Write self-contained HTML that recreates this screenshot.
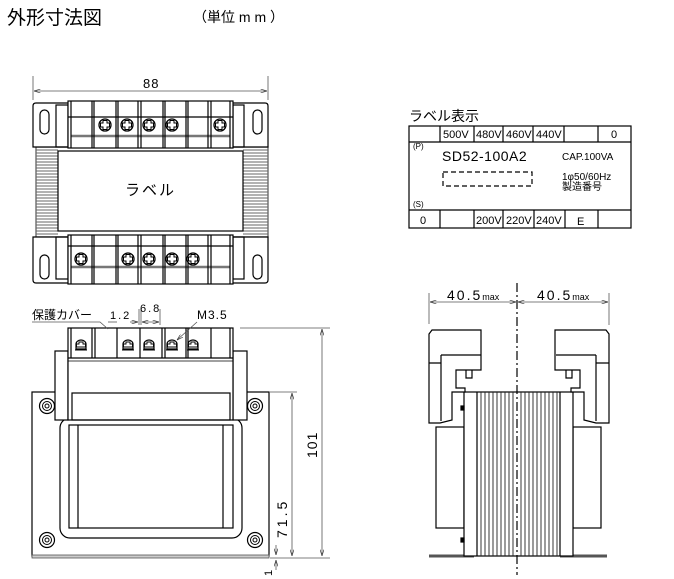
<!DOCTYPE html>
<html><head><meta charset="utf-8"><style>
body{margin:0;background:#fff;width:674px;height:579px;overflow:hidden}
svg{display:block}
text{font-family:"Liberation Sans","Noto Sans CJK JP",sans-serif;fill:#000}
</style></head><body>
<svg width="674" height="579" viewBox="0 0 674 579" xmlns="http://www.w3.org/2000/svg">
<defs>
<marker id="a" viewBox="0 0 10 6" refX="10" refY="3" markerWidth="8" markerHeight="5" orient="auto-start-reverse"><path d="M0,0L10,3L0,6" fill="none" stroke="#333" stroke-width="1"/></marker>
<g id="scr"><circle r="6" fill="#fff" stroke="#000" stroke-width="1.3"/><path d="M-2,-4.5h4v2.5h2.5v4h-2.5v2.5h-4v-2.5h-2.5v-4h2.5z" fill="none" stroke="#000" stroke-width="1"/></g>
<g id="scr2"><path d="M-5,4v-5a5,4 0 0 1 10,0v5z" fill="#fff" stroke="#000" stroke-width="1.2"/><path d="M-2,-3h4v2h2.5v3h-9v-3h2.5z" fill="none" stroke="#000" stroke-width="0.9"/><line x1="-6" y1="5" x2="6" y2="5" stroke="#000"/></g>
<g id="bolt"><circle r="7.5" fill="#fff" stroke="#000" stroke-width="1.2"/><circle r="4.5" fill="none" stroke="#000"/><circle r="2" fill="none" stroke="#000"/></g>
</defs>

<text x="7" y="24" font-size="19">外形寸法図</text>
<text x="193" y="22" font-size="14">（単位  m m ）</text>

<!-- TOP VIEW -->
<g stroke="#000" fill="none" stroke-width="1.2">
<line x1="33" y1="76" x2="33" y2="100" stroke="#555" stroke-width="0.8"/>
<line x1="268" y1="76" x2="268" y2="100" stroke="#555" stroke-width="0.8"/>
<line x1="34" y1="91" x2="267" y2="91" stroke="#555" stroke-width="0.8" marker-start="url(#a)" marker-end="url(#a)"/>
<rect x="36" y="147" width="232" height="90" fill="#fff" stroke="#555"/>
<g stroke="#666" stroke-width="0.9">
<path d="M36,150h22M36,153h22M36,156h22M36,159h22M36,162h22M36,165h22M36,168h22M36,171h22M36,174h22M36,177h22M36,180h22M36,183h22M36,186h22M36,189h22M36,192h22M36,195h22M36,198h22M36,201h22M36,204h22M36,207h22M36,210h22M36,213h22M36,216h22M36,219h22M36,222h22M36,225h22M36,228h22M36,231h22M36,234h22"/>
<path d="M243,150h25M243,153h25M243,156h25M243,159h25M243,162h25M243,165h25M243,168h25M243,171h25M243,174h25M243,177h25M243,180h25M243,183h25M243,186h25M243,189h25M243,192h25M243,195h25M243,198h25M243,201h25M243,204h25M243,207h25M243,210h25M243,213h25M243,216h25M243,219h25M243,222h25M243,225h25M243,228h25M243,231h25M243,234h25"/>
</g>
<rect x="58" y="151" width="185" height="80" fill="#fff"/>
<path d="M33,106q0,-3 3,-3h229q3,0 3,3v41h-235z" fill="#fff"/>
<rect x="40" y="110" width="9" height="24" rx="4.5"/>
<rect x="253" y="110" width="9" height="24" rx="4.5"/>
<rect x="56" y="105" width="12" height="42"/><rect x="233" y="105" width="11" height="42"/>
<rect x="68" y="101" width="165" height="47" fill="#fff"/>
<line x1="68" y1="117" x2="233" y2="117"/>
<line x1="71" y1="136" x2="230" y2="136" stroke="#777" stroke-width="2.5"/>
<path d="M71,101v47M92,101v47M94,101v47M116,101v47M118,101v47M138,101v47M141,101v47M163,101v47M165,101v47M186,101v47M188,101v47M208,101v47M211,101v47M230,101v47"/>
<path d="M33,237h235v43q0,3 -3,3h-229q-3,0 -3,-3z" fill="#fff"/>
<rect x="40" y="255" width="9" height="24" rx="4.5"/>
<rect x="253" y="255" width="9" height="24" rx="4.5"/>
<rect x="56" y="237" width="12" height="42"/><rect x="233" y="237" width="11" height="42"/>
<rect x="68" y="235" width="165" height="49" fill="#fff"/>
<line x1="68" y1="246" x2="233" y2="246"/>
<line x1="71" y1="267" x2="230" y2="267" stroke="#777" stroke-width="2.5"/>
<path d="M71,235v49M92,235v49M94,235v49M116,235v49M118,235v49M138,235v49M141,235v49M163,235v49M165,235v49M186,235v49M188,235v49M208,235v49M211,235v49M230,235v49"/>
</g>
<use href="#scr" x="105" y="125"/><use href="#scr" x="127" y="125"/><use href="#scr" x="149" y="125"/><use href="#scr" x="172" y="125"/><use href="#scr" x="220" y="125"/>
<use href="#scr" x="81" y="259"/><use href="#scr" x="128" y="259"/><use href="#scr" x="149" y="259"/><use href="#scr" x="172" y="259"/><use href="#scr" x="193" y="259"/>
<text x="143" y="88" font-size="13" letter-spacing="1">88</text>
<text x="125" y="195" font-size="15" letter-spacing="2">ラベル</text>

<!-- LABEL TABLE -->
<text x="409" y="121" font-size="14">ラベル表示</text>
<g stroke="#000" fill="none" stroke-width="1.2">
<rect x="409" y="126" width="222" height="102"/>
<line x1="409" y1="142" x2="631" y2="142"/><line x1="409" y1="210" x2="631" y2="210"/>
<path d="M440,126v16M474,126v16M503,126v16M533,126v16M564,126v16M598,126v16"/>
<path d="M440,210v18M474,210v18M503,210v18M534,210v18M565,210v18M598,210v18"/>
<rect x="443" y="172" width="89" height="14" stroke-dasharray="5,3"/>
</g>
<g font-size="11">
<text x="443" y="138">500V</text><text x="476" y="138">480V</text><text x="506" y="138">460V</text><text x="536" y="138">440V</text><text x="611" y="138">0</text>
<text x="420" y="224">0</text><text x="476" y="224">200V</text><text x="506" y="224">220V</text><text x="536" y="224">240V</text><text x="577" y="225">E</text>
<text x="442" y="161" font-size="14" letter-spacing="0.5">SD52-100A2</text>
<text x="562" y="160" font-size="10">CAP.100VA</text>
<text x="562" y="180" font-size="10">1φ50/60Hz</text>
<text x="562" y="190" font-size="10">製造番号</text>
<text x="413" y="149" font-size="8">(P)</text>
<text x="413" y="207" font-size="8">(S)</text>
</g>

<!-- FRONT VIEW -->
<g stroke="#000" fill="none" stroke-width="1.2">
<rect x="32" y="392" width="237" height="164" fill="#fff"/>
<rect x="32" y="555" width="237" height="3" fill="#ccc" stroke="#555" stroke-width="0.8"/>
<rect x="60" y="418" width="182" height="120" rx="10" fill="#fff"/>
<rect x="69" y="425" width="164" height="103"/>
<path d="M78,425v103M223,425v103"/>
<rect x="55" y="351" width="13" height="69" fill="#fff"/><rect x="233" y="351" width="14" height="69" fill="#fff"/>
<rect x="68" y="328" width="165" height="92" fill="#fff"/>
<line x1="68" y1="358" x2="233" y2="358"/><line x1="68" y1="361" x2="233" y2="361" stroke-width="0.8"/>
<rect x="72" y="393" width="158" height="27"/>
<path d="M71,328v30M92,328v30M95,328v30M117,328v30M140,328v30M162,328v30M165,328v30M186,328v30M188,328v30M211,328v30M230,328v30"/>
</g>
<use href="#scr2" x="81" y="345"/><use href="#scr2" x="128" y="345"/><use href="#scr2" x="149" y="345"/><use href="#scr2" x="172" y="345"/><use href="#scr2" x="193" y="345"/>
<use href="#bolt" x="47" y="406"/><use href="#bolt" x="255" y="406"/><use href="#bolt" x="47" y="540"/><use href="#bolt" x="255" y="540"/>
<g stroke="#555" stroke-width="0.8" fill="none">
<line x1="240" y1="328" x2="330" y2="328"/>
<line x1="322" y1="329" x2="322" y2="556" marker-start="url(#a)" marker-end="url(#a)"/>
<line x1="270" y1="392" x2="297" y2="392"/>
<line x1="292" y1="393" x2="292" y2="556" marker-start="url(#a)" marker-end="url(#a)"/>
<line x1="270" y1="558" x2="330" y2="558"/>
<line x1="276" y1="545" x2="276" y2="555" marker-end="url(#a)"/>
<line x1="276" y1="570" x2="276" y2="560" marker-end="url(#a)"/>
<path d="M32,322h68l8,7"/>
<line x1="108" y1="322" x2="117" y2="322"/>
<line x1="139" y1="309" x2="139" y2="325"/><line x1="130" y1="322" x2="138" y2="322" marker-end="url(#a)"/>
<line x1="141" y1="309" x2="141" y2="325"/><line x1="160" y1="309" x2="160" y2="325"/>
<line x1="142" y1="322" x2="159" y2="322" marker-start="url(#a)" marker-end="url(#a)"/>
<line x1="197" y1="322" x2="177" y2="340" marker-end="url(#a)"/>
</g>
<text x="32" y="319" font-size="12">保護カバー</text>
<text x="110" y="319" font-size="11" letter-spacing="2">1.2</text>
<text x="140" y="312" font-size="11" letter-spacing="2">6.8</text>
<text x="197" y="319" font-size="12" letter-spacing="1">M3.5</text>
<text x="0" y="0" font-size="14" letter-spacing="1" transform="translate(317,458) rotate(-90)">101</text>
<text x="0" y="0" font-size="14" letter-spacing="3" transform="translate(287,538) rotate(-90)">71.5</text>
<text x="0" y="0" font-size="11" transform="translate(272,576) rotate(-90)">1</text>

<!-- SIDE VIEW -->
<g stroke="#555" stroke-width="0.8" fill="none">
<line x1="429" y1="293" x2="429" y2="324"/><line x1="609" y1="293" x2="609" y2="325"/>
<line x1="430" y1="302" x2="516" y2="302" marker-start="url(#a)" marker-end="url(#a)"/>
<line x1="518" y1="302" x2="608" y2="302" marker-start="url(#a)" marker-end="url(#a)"/>
</g>
<text x="447" y="300" font-size="14" letter-spacing="2">40.5<tspan font-size="9" letter-spacing="0">max</tspan></text>
<text x="537" y="300" font-size="14" letter-spacing="2">40.5<tspan font-size="9" letter-spacing="0">max</tspan></text>
<g stroke="#000" fill="none" stroke-width="1.2">
<rect x="436" y="427" width="28" height="101"/><rect x="573" y="427" width="28" height="101"/>
<path d="M429,556h45M560,556h47" stroke-width="3" stroke="#555"/>
<rect x="464" y="392" width="109" height="164" fill="#fff"/>
<path d="M477,392v164M560,392v164"/>
<g stroke="#222" stroke-width="0.9">
<path d="M481,392v164M485,392v164M489,392v164M493,392v164M497,392v164M501,392v164M505,392v164M509,392v164M513,392v164M521,392v164M525,392v164M529,392v164M533,392v164M537,392v164M541,392v164M545,392v164M549,392v164M553,392v164M557,392v164"/>
</g>
<rect x="461" y="406" width="3" height="4" fill="#000"/><rect x="461" y="538" width="3" height="4" fill="#000"/>
<path d="M429,334l3,-4h49v40h-25v18l9,0v4h-13v28l-12,3h-11z" fill="#fff"/>
<path d="M441,355h40M429,363h12M441,355v66M466,370v8h6v-8"/>
<path d="M609,334l-3,-4h-51v40h25v18l-9,0v4h13v28l12,3h13z" fill="#fff"/>
<path d="M556,355h40M596,363h13M596,355v66M566,370v8h6v-8"/>
</g>
<line x1="517" y1="283" x2="517" y2="575" stroke="#000" stroke-width="1.2" stroke-dasharray="9,3,2,3"/>
</svg>
</body></html>
